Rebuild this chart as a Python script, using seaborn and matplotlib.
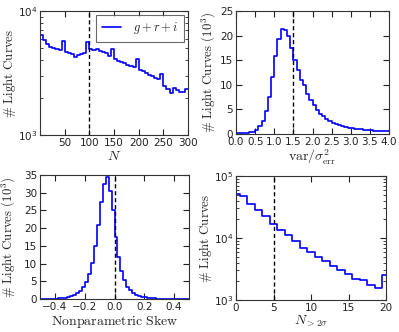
import numpy as np
import pandas as pd
import matplotlib
matplotlib.use("Agg")
import matplotlib.pyplot as plt
from matplotlib.ticker import MultipleLocator, LogLocator, NullFormatter
import seaborn as sns

# ---------------- data ----------------
# Panel 1: number of epochs N (bin width 6.25, 0..300), counts
n_edges = np.linspace(0, 300, 49)
n_counts = [6400, 5840, 5390, 5150, 5000, 4900, 4840, 5730,
            4700, 4600, 4480, 4280, 4450, 4520, 4560, 5660,
            4940, 4850, 4940, 4760, 4650, 4560, 4360, 4900,
            4120, 3970, 3900, 3800, 3690, 3600, 3560, 4100,
            3360, 3260, 3160, 3060, 2970, 2900, 2820, 3100,
            2500, 2350, 2200, 2380, 2300, 2220, 2230, 2350]
n_left_floor = 4150
n_cut = 100

# Panel 2: var / sigma_err^2 (bin width 1/12, 0..4), counts in 10^3
var_edges = np.linspace(0, 4, 49)
var_counts = [0.20, 0.22, 0.26, 0.30, 0.36, 0.45,
              0.90, 1.60, 2.70, 4.70, 7.60, 11.6,
              15.8, 19.3, 21.4, 21.1, 19.9, 17.4,
              15.0, 13.0, 11.0, 9.9, 8.1, 7.0,
              5.8, 4.9, 4.1, 3.6, 3.05, 2.6,
              2.25, 2.0, 1.8, 1.6, 1.45, 1.3,
              1.2, 1.1, 1.0, 0.95, 0.88, 0.82,
              0.76, 0.70, 0.65, 0.60, 0.55, 0.52]
var_cut = 1.5

# Panel 3: nonparametric skew (bin width 0.02, -0.5..0.5), counts in 10^3
skew_edges = np.linspace(-0.5, 0.5, 51)
skew_counts = [0.03, 0.04, 0.05, 0.07, 0.10, 0.14, 0.20, 0.28, 0.40, 0.55,
               0.80, 1.1, 1.6, 2.3, 3.3, 4.8, 7.0, 10.3, 15.0, 20.8,
               27.5, 32.6, 34.3, 30.5, 25.0,
               17.5, 11.9, 7.8, 5.3, 3.4, 2.4, 1.7, 1.2, 0.85, 0.60,
               0.45, 0.33, 0.25, 0.19, 0.14, 0.10, 0.08, 0.06, 0.05, 0.04,
               0.03, 0.03, 0.02, 0.02, 0.02]
skew_cut = 0.0

# Panel 4: N_{>2 sigma} (integer bins), counts
nsig_values = np.arange(0, 21)
nsig_counts = [52000, 47000, 35800, 28600, 22600, 17000, 13600, 11000,
               8830, 6900, 5940, 4870, 4200, 3490, 3010, 2660, 2210,
               2100, 1730, 1560, 2500]
nsig_cut = 5

# ---------------- style ----------------
sns.set_style("ticks")
plt.rcParams.update({
    "font.family": ["DejaVu Sans"],
    "mathtext.fontset": "cm",
    "xtick.direction": "in",
    "ytick.direction": "in",
    "xtick.top": True,
    "ytick.right": True,
    "xtick.major.size": 4,
    "ytick.major.size": 4,
    "xtick.minor.size": 2,
    "ytick.minor.size": 2,
    "xtick.labelsize": 7.5,
    "ytick.labelsize": 7.5,
    "axes.edgecolor": "#333333",
    "axes.linewidth": 0.8,
    "xtick.color": "#222222",
    "ytick.color": "#222222",
})

fig = plt.figure(figsize=(3.99, 3.32), dpi=100)
ax1 = fig.add_axes([40/399, 1-135/332, 148/399, 124/332])
ax2 = fig.add_axes([236/399, 1-134/332, 153/399, 123/332])
ax3 = fig.add_axes([40/399, 1-299/332, 149/399, 124/332])
ax4 = fig.add_axes([236/399, 1-300/332, 150/399, 124/332])

LINE = dict(color="#0000ff", lw=1.2, drawstyle="steps-post",
            estimator=None, sort=False)


def step_frame(edges, counts, start=None):
    x = list(edges[:-1]) + [edges[-1]]
    y = list(counts) + [counts[-1]]
    if start is not None:
        x = [edges[0]] + x
        y = [start] + y
    return pd.DataFrame({"x": x, "y": y})


def cut_line(ax, x):
    ax.axvline(x, color="black", ls="--", lw=1.0, dashes=(3, 2))

xlab = 10
ylab = 9.3

# Panel 1
d1 = step_frame(n_edges, n_counts, start=n_left_floor)
sns.lineplot(data=d1, x="x", y="y", ax=ax1, label=r"$g+r+i$", **LINE)
ax1.set_yscale("log")
ax1.set_ylim(1e3, 1e4)
ax1.set_xlim(0, 300)
ax1.set_xticks([50, 100, 150, 200, 250, 300])
cut_line(ax1, n_cut)
ax1.set_xlabel(r"$N$", fontsize=xlab, labelpad=1)
ax1.set_ylabel(r"$\#\ \mathrm{Light\ Curves}$", fontsize=ylab)
ax1.yaxis.set_label_coords(-0.15, 0.5)
leg = ax1.legend(loc="upper right", bbox_to_anchor=(1, 1), fontsize=9,
                 frameon=True, fancybox=False, handlelength=1.5,
                 borderpad=0.45, handletextpad=1.0, borderaxespad=0.3)
leg.get_frame().set_edgecolor("#444444")
leg.get_frame().set_linewidth(0.8)

# Panel 2
d2 = step_frame(var_edges, var_counts)
sns.lineplot(data=d2, x="x", y="y", ax=ax2, legend=False, **LINE)
ax2.set_xlim(0, 4)
ax2.set_ylim(0, 25)
ax2.xaxis.set_major_locator(MultipleLocator(0.5))
ax2.yaxis.set_major_locator(MultipleLocator(5))
cut_line(ax2, var_cut)
ax2.set_xlabel(r"$\mathrm{var}/\sigma^2_{\rm err}$", fontsize=xlab, labelpad=1)
ax2.set_ylabel(r"$\#\ \mathrm{Light\ Curves}\ (10^3)$", fontsize=ylab)
ax2.yaxis.set_label_coords(-0.115, 0.5)

# Panel 3
d3 = step_frame(skew_edges, skew_counts)
sns.lineplot(data=d3, x="x", y="y", ax=ax3, legend=False, **LINE)
ax3.set_xlim(-0.5, 0.5)
ax3.set_ylim(0, 35)
ax3.set_xticks([-0.4, -0.2, 0.0, 0.2, 0.4])
ax3.set_xticklabels(["\u22120.4", "\u22120.2", "0.0", "0.2", "0.4"])
ax3.yaxis.set_major_locator(MultipleLocator(5))
cut_line(ax3, skew_cut)
ax3.set_xlabel(r"$\mathrm{Nonparametric\ Skew}$", fontsize=xlab, labelpad=1)
ax3.set_ylabel(r"$\#\ \mathrm{Light\ Curves}\ (10^3)$", fontsize=ylab)
ax3.yaxis.set_label_coords(-0.145, 0.5)

# Panel 4
nsig_edges = np.append(nsig_values - 0.5, nsig_values[-1] + 0.5)
d4 = step_frame(nsig_edges, nsig_counts)
sns.lineplot(data=d4, x="x", y="y", ax=ax4, legend=False, **LINE)
ax4.set_yscale("log")
ax4.set_ylim(1e3, 1e5)
ax4.set_xlim(0, 20)
ax4.set_xticks([0, 5, 10, 15, 20])
cut_line(ax4, nsig_cut)
ax4.set_xlabel(r"$N_{>2\sigma}$", fontsize=xlab, labelpad=1)
ax4.set_ylabel(r"$\#\ \mathrm{Light\ Curves}$", fontsize=ylab)
ax4.yaxis.set_label_coords(-0.145, 0.5)

for ax in (ax1, ax4):
    ax.yaxis.set_minor_locator(LogLocator(base=10, subs=np.arange(2, 10)))
    ax.yaxis.set_minor_formatter(NullFormatter())
for ax in (ax1, ax2, ax3, ax4):
    ax.tick_params(which="both", top=True, right=True, direction="in", pad=2)

fig.savefig("out.png", dpi=100)
